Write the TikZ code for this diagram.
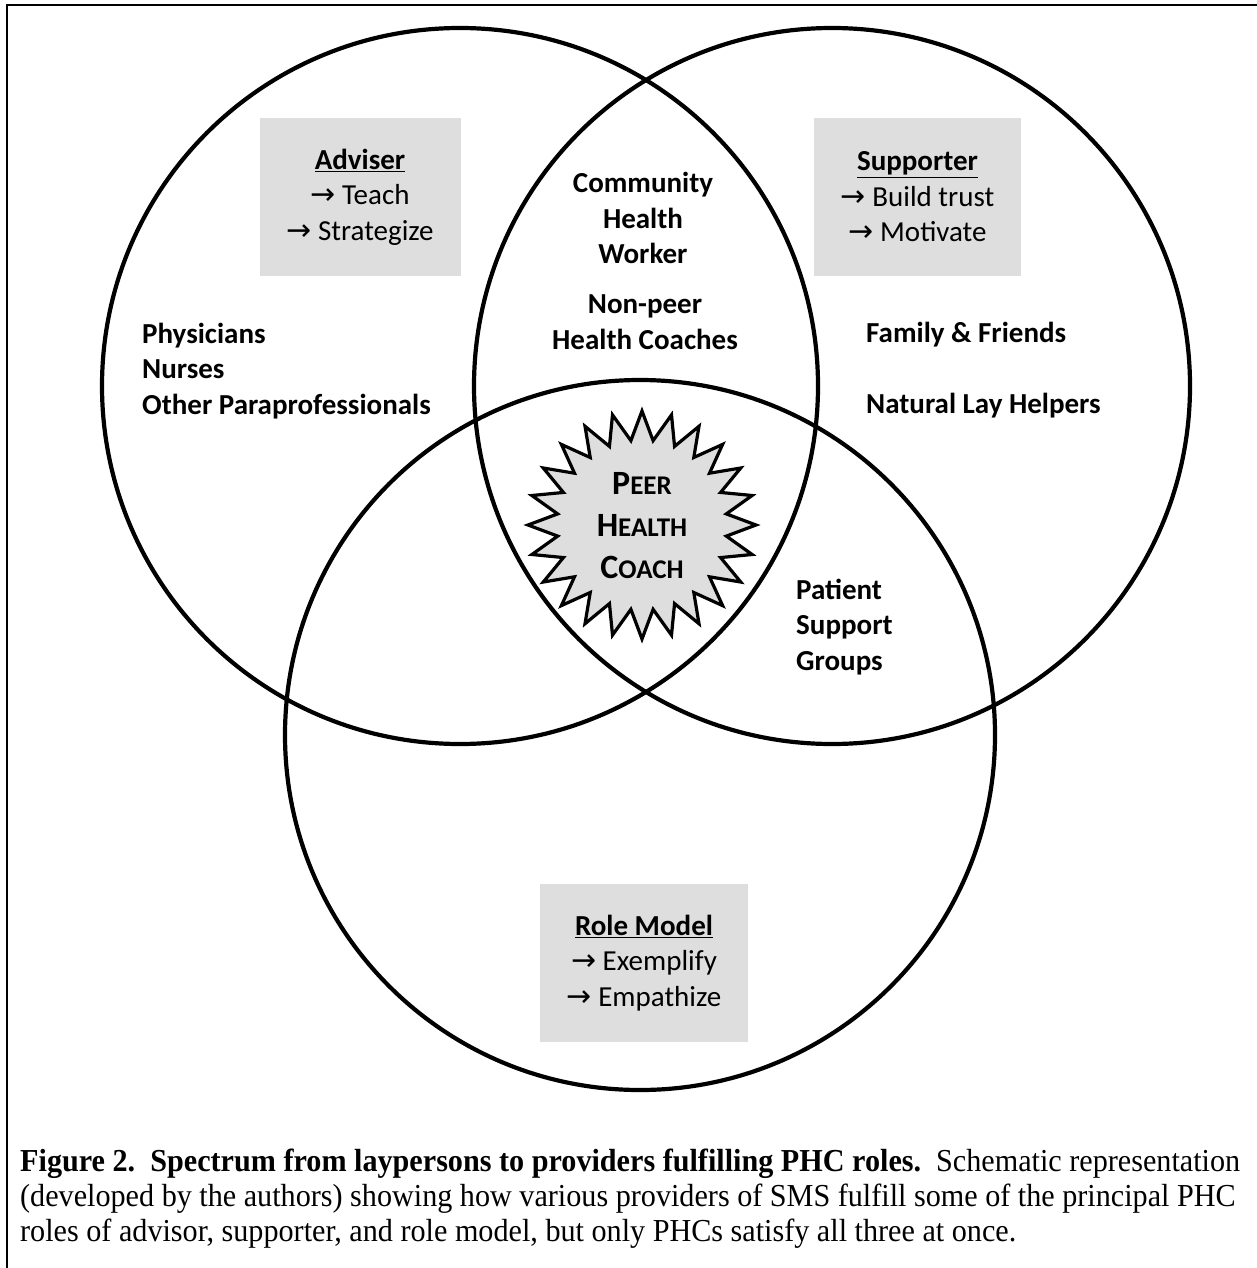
\documentclass[tikz,border=0pt]{standalone}
\usepackage{fontspec}
\setmainfont{Carlito}
\newfontfamily\capfont{Liberation Serif}
\newfontfamily\arrowfont{DejaVu Sans}
\usetikzlibrary{shapes.geometric}
\newlength\fitw
\newcommand\capone{{\bfseries Figure 2.\ \ Spectrum from laypersons to providers fulfilling PHC roles.}\ \ Schematic representation}
\newcommand\arr{{\arrowfont\fontsize{30}{30}\selectfont →}}
\newcommand\smc[1]{{\fontsize{27}{27}\selectfont #1}}
\begin{document}
\begin{tikzpicture}[x=1pt,y=-1pt,
  venn/.style={circle,draw,line width=4.2pt,minimum size=#1,inner sep=0},
  lbl/.style={font=\fontsize{29}{35.5}\selectfont\bfseries,inner sep=0,align=center},
  lbll/.style={lbl,align=left,anchor=west},
  rolebox/.style={fill=black!13,inner sep=0,align=center,font=\fontsize{29}{35.5}\selectfont},
  capline/.style={font=\capfont\fontsize{32}{32}\selectfont,inner sep=0,anchor=base west}]
\useasboundingbox (0,0) rectangle (1257,1268);
\draw[line width=2pt] (7,1268) -- (7,5) -- (1257,5);
% circles
\node[venn=716pt] (cl) at (460,386) {};
\node[venn=716pt] (cr) at (832,386) {};
\node[venn=710pt] (cb) at (640,735) {};
% role boxes
\node[rolebox,minimum width=201pt,minimum height=158pt] (adv) at (360,197)
  {\textbf{\underline{Adviser}}\\ \arr{} Teach\\ \arr{} Strategize};
\node[rolebox,minimum width=207pt,minimum height=157pt] (sup) at (917.5,197)
  {\textbf{\underline{Supporter}}\\ \arr{} Build trust\\ \arr{} Motivate};
\node[rolebox,minimum width=208pt,minimum height=158pt] (rm) at (644,963)
  {\textbf{\underline{Role Model}}\\ \arr{} Exemplify\\ \arr{} Empathize};
% labels
\node[lbl] (chw) at (643,218) {Community\\Health\\Worker};
\node[lbl] (npc) at (645,322) {Non-peer\\Health Coaches};
\node[lbll] (phys) at (142,371) {Physicians\\Nurses\\Other Paraprofessionals};
\node[lbll] (fam) at (866,335) {Family \& Friends};
\node[lbll] (nat) at (866,406) {Natural Lay Helpers};
\node[lbll] (psg) at (796,627) {Patient\\Support\\Groups};
% star
\node[star,star points=24,star point ratio=1.34,minimum size=228pt,inner sep=0,
  draw,line width=3.2pt,fill=black!13] (star) at (642,525) {};
\node[lbl,font=\fontsize{34}{42}\selectfont\bfseries] (phc) at (642,526)
  {P\smc{EER}\\H\smc{EALTH}\\C\smc{OACH}};
% caption
\node[capline] (c1) at (20,1171) {\settowidth\fitw{\capone}\pgfmathsetmacro\fitr{1220/\fitw}\global\let\fitratio\fitr\scalebox{\fitr}[1]{\capone}};
\node[capline] (c2) at (20,1206) {\scalebox{\fitratio}[1]{(developed by the authors) showing how various providers of SMS fulfill some of the principal PHC}};
\node[capline] (c3) at (20,1241) {\scalebox{\fitratio}[1]{roles of advisor, supporter, and role model, but only PHCs satisfy all three at once.}};
\end{tikzpicture}
\end{document}
